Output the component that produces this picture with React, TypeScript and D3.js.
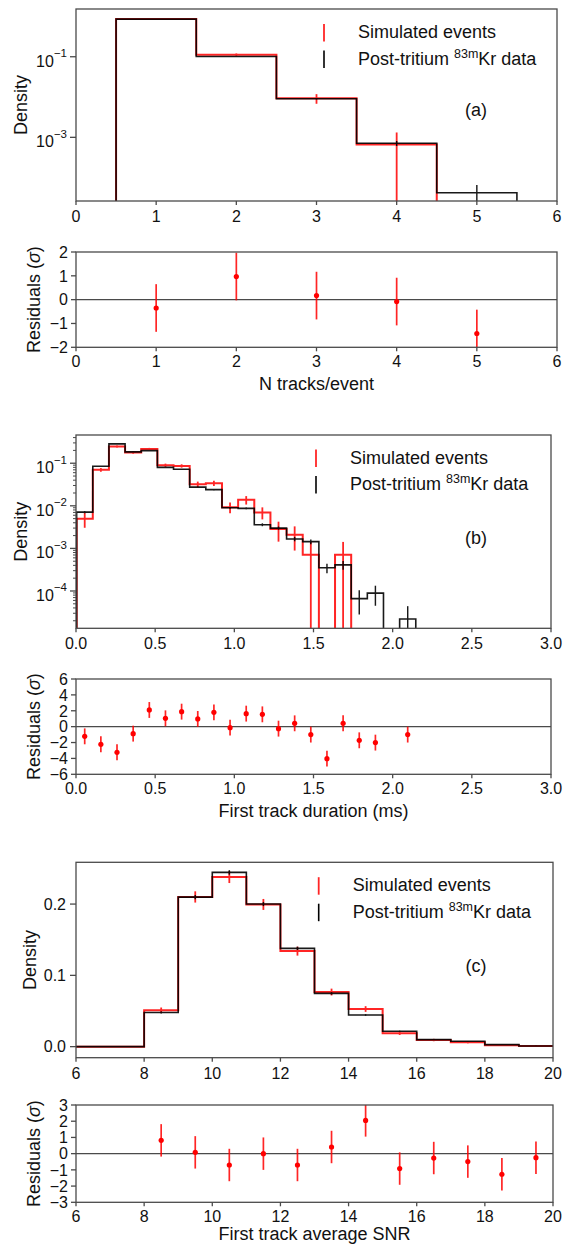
import React from 'react';
import * as d3 from 'd3';

const FONT = '"Liberation Sans", Arial, Helvetica, sans-serif';
const SIM_COLOR = '#ff0000';
const DATA_COLOR = '#000000';
const FRAME_COLOR = '#4a4a4a';
const TEXT_COLOR = '#111111';

// ---------- (a) number of tracks per event ----------
const trackBins = [1, 2, 3, 4, 5];
const trackBinWidth = 1;
const trackSim = [0.86, 0.112, 0.0093, 0.00066, 0];
const trackSimErr = [0.024, 0.0085, 0.0025, 0.00066, 0];
const trackData = [0.86, 0.101, 0.0091, 0.00071, 0.000042];
const trackDataErr = [0.0035, 0.0012, 0.00036, 0.0001, 0.000024];
const trackResid = [-0.35, 0.97, 0.17, -0.08, -1.42];
const trackXTicks = [0, 1, 2, 3, 4, 5, 6];
const trackYTicks = [1e-1, 1e-3];
const trackResidTicks = [-2, -1, 0, 1, 2];

// ---------- (b) first track duration ----------
const durationBins = [
  0.055, 0.157, 0.259, 0.361, 0.463, 0.565, 0.667, 0.769, 0.871, 0.973, 1.075,
  1.177, 1.279, 1.381, 1.483, 1.585, 1.687, 1.789, 1.891, 1.993, 2.095,
];
const durationBinWidth = 0.102;
const durationSim = [
  4.95e-3, 0.07, 0.246, 0.178, 0.217, 0.0898, 0.0866, 0.0322, 0.034, 0.0093, 0.0138,
  0.007, 0.00284, 0.00209, 7.1e-4, 0, 7.1e-4, 0, 0, 0, 0,
];
const durationSimErr = [
  1.9e-3, 7.0e-3, 1.3e-2, 1.1e-2, 1.2e-2, 8.0e-3, 7.8e-3, 4.8e-3, 4.9e-3, 2.6e-3, 3.1e-3,
  2.2e-3, 1.4e-3, 1.2e-3, 7.1e-4, 0, 7.1e-4, 0, 0, 0, 0,
];
const durationData = [
  7.1e-3, 0.085, 0.284, 0.185, 0.198, 0.08, 0.072, 0.0274, 0.024, 0.009, 0.0087,
  0.0036, 0.003, 0.00166, 0.00144, 3.5e-4, 4.1e-4, 6.6e-5, 8.9e-5, 0, 2.2e-5,
];
const durationDataErr = [
  4.0e-4, 1.37e-3, 2.5e-3, 2.0e-3, 2.1e-3, 1.33e-3, 1.26e-3, 7.8e-4, 7.3e-4, 4.4e-4, 4.4e-4,
  2.8e-4, 2.6e-4, 1.9e-4, 1.8e-4, 8.8e-5, 9.5e-5, 3.8e-5, 4.4e-5, 0, 2.2e-5,
];
const durationResid = [
  -1.22, -2.22, -3.23, -0.88, 2.1, 1.05, 1.89, 0.97, 1.8, -0.13, 1.64,
  1.55, -0.25, 0.42, -1.0, -4.03, 0.42, -1.72, -2.01, null, -1.0,
];
const durationXTicks = [0, 0.5, 1.0, 1.5, 2.0, 2.5, 3.0];
const durationYTicks = [1e-1, 1e-2, 1e-3, 1e-4];
const durationResidTicks = [-6, -4, -2, 0, 2, 4, 6];

// ---------- (c) first track average SNR ----------
const snrBins = [6.5, 7.5, 8.5, 9.5, 10.5, 11.5, 12.5, 13.5, 14.5, 15.5, 16.5, 17.5, 18.5, 19.5];
const snrBinWidth = 1;
const snrSim = [0, 0, 0.051, 0.21, 0.238, 0.1995, 0.134, 0.0766, 0.0528, 0.0187, 0.0093, 0.0061, 0.0019, 0.0009];
const snrSimErr = [0, 0, 0.0039, 0.0079, 0.0085, 0.0077, 0.0063, 0.0048, 0.004, 0.0024, 0.0017, 0.0014, 0.00075, 0.0005];
const snrData = [0, 0, 0.048, 0.2098, 0.2444, 0.2, 0.1379, 0.0748, 0.0444, 0.0215, 0.0098, 0.0075, 0.0028, 0.001];
const snrDataErr = [0, 0, 0.0014, 0.0029, 0.0031, 0.0028, 0.0023, 0.0017, 0.0013, 0.0009, 0.0006, 0.0005, 0.0003, 0.0002];
const snrResid = [null, null, 0.82, 0.08, -0.7, 0.0, -0.7, 0.41, 2.05, -0.92, -0.27, -0.49, -1.27, -0.25];
const snrXTicks = [6, 8, 10, 12, 14, 16, 18, 20];
const snrYTicks = [0.0, 0.1, 0.2];
const snrResidTicks = [-3, -2, -1, 0, 1, 2, 3];

// residuals are expressed in units of sigma
const RESID_SIGMA = 1;

const legendLabels = ['Simulated events', 'Post-tritium ', '83m', 'Kr data'];

type Box = { left: number; right: number; top: number; bottom: number };

interface HistSpec {
  values: number[];
  errors: number[];
  color: string;
  lineWidth: number;
  opacity: number;
}

interface MainProps {
  id: string;
  box: Box;
  xDomain: [number, number];
  xTicks: number[];
  xFmt: (v: number) => string;
  yType: 'log' | 'linear';
  yDomain: [number, number];
  yTicks: number[];
  yMinor?: boolean;
  yLabelX: number;
  centers: number[];
  binWidth: number;
  hists: HistSpec[];
  legendTextX: number;
  legendBaseline: number;
  tag: string;
  tagX: number;
  tagY: number;
}

function MainPanel(p: MainProps) {
  const { box } = p;
  const x = d3.scaleLinear().domain(p.xDomain).range([box.left, box.right]);
  const y =
    p.yType === 'log'
      ? d3.scaleLog().domain(p.yDomain).range([box.bottom, box.top])
      : d3.scaleLinear().domain(p.yDomain).range([box.bottom, box.top]);
  const floor = p.yType === 'log' ? box.bottom + 4 : (y as any)(0);
  const yy = (v: number) => (p.yType === 'log' && v <= 0 ? floor : (y as any)(v));
  const half = p.binWidth / 2;

  const stepPath = (values: number[]) => {
    let d = '';
    p.centers.forEach((c, i) => {
      const x0 = x(c - half);
      const x1 = x(c + half);
      const v = yy(values[i]);
      d += i === 0 ? `M${x0},${floor}L${x0},${v}` : `L${x0},${v}`;
      d += `L${x1},${v}`;
    });
    const last = p.centers[p.centers.length - 1];
    d += `L${x(last + half)},${floor}`;
    return d;
  };

  const minorTicks: number[] = [];
  if (p.yType === 'log' && p.yMinor) {
    const lo = Math.floor(Math.log10(p.yDomain[0]));
    const hi = Math.ceil(Math.log10(p.yDomain[1]));
    for (let e = lo; e < hi; e++) {
      for (let m = 2; m <= 9; m++) {
        const v = m * Math.pow(10, e);
        if (v >= p.yDomain[0] && v <= p.yDomain[1]) minorTicks.push(v);
      }
    }
  }

  const lx = p.legendTextX;
  const lb = p.legendBaseline;
  const lineX = lx - 34;
  const rowGap = 26.5;

  return (
    <g>
      <defs>
        <clipPath id={p.id}>
          <rect x={box.left} y={box.top} width={box.right - box.left} height={box.bottom - box.top} />
        </clipPath>
      </defs>
      <g clipPath={`url(#${p.id})`}>
        {p.hists.map((h, k) => (
          <g key={k} opacity={h.opacity}>
            <path d={stepPath(h.values)} fill="none" stroke={h.color} strokeWidth={h.lineWidth} />
            {p.centers.map((c, i) =>
              h.values[i] > 0 || h.errors[i] > 0 ? (
                <line
                  key={i}
                  x1={x(c)}
                  x2={x(c)}
                  y1={yy(h.values[i] + h.errors[i])}
                  y2={yy(h.values[i] - h.errors[i])}
                  stroke={h.color}
                  strokeWidth={h.lineWidth * 0.9}
                />
              ) : null
            )}
          </g>
        ))}
      </g>
      <rect
        x={box.left}
        y={box.top}
        width={box.right - box.left}
        height={box.bottom - box.top}
        fill="none"
        stroke={FRAME_COLOR}
        strokeWidth={1.3}
      />
      {/* y axis */}
      {minorTicks.map((v, i) => (
        <line key={'m' + i} x1={box.left - 3} x2={box.left} y1={y(v)} y2={y(v)} stroke={FRAME_COLOR} strokeWidth={1} />
      ))}
      {p.yTicks.map((v, i) => (
        <g key={'y' + i}>
          <line x1={box.left - 6} x2={box.left} y1={y(v)} y2={y(v)} stroke={FRAME_COLOR} strokeWidth={1.3} />
          {p.yType === 'log' ? (
            <text x={box.left - 9} y={y(v) + 10} textAnchor="end" fontSize={16} fill={TEXT_COLOR}>
              10
              <tspan dy={-9.5} fontSize={11.5}>
                {'\u2212' + Math.abs(Math.round(Math.log10(v)))}
              </tspan>
            </text>
          ) : (
            <text x={box.left - 10} y={y(v) + 5.8} textAnchor="end" fontSize={16} fill={TEXT_COLOR}>
              {d3.format('.1f')(v)}
            </text>
          )}
        </g>
      ))}
      {/* x axis */}
      {p.xTicks.map((v, i) => (
        <g key={'x' + i}>
          <line x1={x(v)} x2={x(v)} y1={box.bottom} y2={box.bottom + 4} stroke={FRAME_COLOR} strokeWidth={1.3} />
          <text x={x(v)} y={box.bottom + 21} textAnchor="middle" fontSize={16} fill={TEXT_COLOR}>
            {p.xFmt(v)}
          </text>
        </g>
      ))}
      <text
        transform={`translate(${p.yLabelX},${(box.top + box.bottom) / 2}) rotate(-90)`}
        textAnchor="middle"
        dy="0.35em"
        fontSize={18}
        fill={TEXT_COLOR}
      >
        Density
      </text>
      {/* legend */}
      <line x1={lineX} x2={lineX} y1={lb - 14} y2={lb + 3.5} stroke={SIM_COLOR} strokeWidth={1.8} opacity={0.85} />
      <line x1={lineX} x2={lineX} y1={lb + rowGap - 14} y2={lb + rowGap + 3.5} stroke={DATA_COLOR} strokeWidth={1.6} />
      <text x={lx} y={lb} fontSize={18} fill={TEXT_COLOR}>
        {legendLabels[0]}
      </text>
      <text x={lx} y={lb + rowGap} fontSize={18} fill={TEXT_COLOR}>
        {legendLabels[1]}
        <tspan dy={-7} fontSize={12.5}>
          {legendLabels[2]}
        </tspan>
        <tspan dy={7}>{legendLabels[3]}</tspan>
      </text>
      <text x={p.tagX} y={p.tagY} textAnchor="middle" fontSize={18} fill={TEXT_COLOR}>
        {p.tag}
      </text>
    </g>
  );
}

interface ResidProps {
  id: string;
  box: Box;
  xDomain: [number, number];
  xTicks: number[];
  xFmt: (v: number) => string;
  yDomain: [number, number];
  yTicks: number[];
  centers: number[];
  resid: (number | null)[];
  xLabel: string;
  xLabelOffset?: number;
}

function ResidPanel(p: ResidProps) {
  const { box } = p;
  const x = d3.scaleLinear().domain(p.xDomain).range([box.left, box.right]);
  const y = d3.scaleLinear().domain(p.yDomain).range([box.bottom, box.top]);
  const fmt = d3.format('d');
  return (
    <g>
      <defs>
        <clipPath id={p.id}>
          <rect x={box.left} y={box.top} width={box.right - box.left} height={box.bottom - box.top} />
        </clipPath>
      </defs>
      <line x1={box.left} x2={box.right} y1={y(0)} y2={y(0)} stroke={FRAME_COLOR} strokeWidth={1.3} />
      <g clipPath={`url(#${p.id})`}>
        {p.centers.map((c, i) => {
          const r = p.resid[i];
          if (r === null || r === undefined) return null;
          return (
            <g key={i}>
              <line
                x1={x(c)}
                x2={x(c)}
                y1={y(r + RESID_SIGMA)}
                y2={y(r - RESID_SIGMA)}
                stroke={SIM_COLOR}
                strokeWidth={1.7}
                opacity={0.85}
              />
              <circle cx={x(c)} cy={y(r)} r={2.6} fill={SIM_COLOR} />
            </g>
          );
        })}
      </g>
      <rect
        x={box.left}
        y={box.top}
        width={box.right - box.left}
        height={box.bottom - box.top}
        fill="none"
        stroke={FRAME_COLOR}
        strokeWidth={1.3}
      />
      {p.yTicks.map((v, i) => (
        <g key={'y' + i}>
          <line x1={box.left - 5} x2={box.left} y1={y(v)} y2={y(v)} stroke={FRAME_COLOR} strokeWidth={1.3} />
          <text x={box.left - 8} y={y(v) + 5.8} textAnchor="end" fontSize={16} fill={TEXT_COLOR}>
            {fmt(v)}
          </text>
        </g>
      ))}
      {p.xTicks.map((v, i) => (
        <g key={'x' + i}>
          <line x1={x(v)} x2={x(v)} y1={box.bottom} y2={box.bottom + 4} stroke={FRAME_COLOR} strokeWidth={1.3} />
          <text x={x(v)} y={box.bottom + 20} textAnchor="middle" fontSize={16} fill={TEXT_COLOR}>
            {p.xFmt(v)}
          </text>
        </g>
      ))}
      <text
        transform={`translate(34,${(box.top + box.bottom) / 2}) rotate(-90)`}
        textAnchor="middle"
        dy="0.35em"
        fontSize={18}
        fill={TEXT_COLOR}
      >
        Residuals (<tspan fontStyle="italic">σ</tspan>)
      </text>
      <text
        x={(box.left + box.right) / 2}
        y={box.bottom + (p.xLabelOffset ?? 43)}
        textAnchor="middle"
        fontSize={18}
        fill={TEXT_COLOR}
      >
        {p.xLabel}
      </text>
    </g>
  );
}

export default function App() {
  const intFmt = d3.format('d');
  const oneDec = d3.format('.1f');
  const simStyle = { color: SIM_COLOR, lineWidth: 2, opacity: 0.85 };
  const dataStyle = { color: DATA_COLOR, lineWidth: 1.6, opacity: 0.9 };

  return (
    <svg
      width={570}
      height={1245}
      viewBox="0 0 570 1245"
      style={{ position: 'absolute', left: 0, top: 0, background: '#fff', fontFamily: FONT }}
    >
      <rect width={570} height={1245} fill="#fff" />

      <MainPanel
        id="clip-a"
        box={{ left: 76, right: 557, top: 9, bottom: 201 }}
        xDomain={[0, 6]}
        xTicks={trackXTicks}
        xFmt={intFmt}
        yType="log"
        yDomain={[2.63e-5, 1.53]}
        yTicks={trackYTicks}
        yLabelX={21}
        centers={trackBins}
        binWidth={trackBinWidth}
        hists={[
          { values: trackSim, errors: trackSimErr, ...simStyle },
          { values: trackData, errors: trackDataErr, ...dataStyle },
        ]}
        legendTextX={358}
        legendBaseline={38}
        tag="(a)"
        tagX={476}
        tagY={116}
      />
      <ResidPanel
        id="clip-ar"
        box={{ left: 76, right: 557, top: 252, bottom: 347.3 }}
        xDomain={[0, 6]}
        xTicks={trackXTicks}
        xFmt={intFmt}
        yDomain={[-2, 2]}
        yTicks={trackResidTicks}
        centers={trackBins}
        resid={trackResid}
        xLabel="N tracks/event"
      />

      <MainPanel
        id="clip-b"
        box={{ left: 76, right: 551, top: 435, bottom: 628.3 }}
        xDomain={[0, 3]}
        xTicks={durationXTicks}
        xFmt={oneDec}
        yType="log"
        yDomain={[1.33e-5, 0.46]}
        yTicks={durationYTicks}
        yMinor
        yLabelX={21}
        centers={durationBins}
        binWidth={durationBinWidth}
        hists={[
          { values: durationSim, errors: durationSimErr, ...simStyle },
          { values: durationData, errors: durationDataErr, ...dataStyle },
        ]}
        legendTextX={350}
        legendBaseline={463.6}
        tag="(b)"
        tagX={476}
        tagY={544}
      />
      <ResidPanel
        id="clip-br"
        box={{ left: 76, right: 551, top: 679, bottom: 774.3 }}
        xDomain={[0, 3]}
        xTicks={durationXTicks}
        xFmt={oneDec}
        yDomain={[-6, 6]}
        yTicks={durationResidTicks}
        centers={durationBins}
        resid={durationResid}
        xLabel="First track duration (ms)"
      />

      <MainPanel
        id="clip-c"
        box={{ left: 76, right: 553, top: 862.3, bottom: 1057.7 }}
        xDomain={[6, 20]}
        xTicks={snrXTicks}
        xFmt={intFmt}
        yType="linear"
        yDomain={[-0.0155, 0.2586]}
        yTicks={snrYTicks}
        yLabelX={30}
        centers={snrBins}
        binWidth={snrBinWidth}
        hists={[
          { values: snrSim, errors: snrSimErr, ...simStyle },
          { values: snrData, errors: snrDataErr, ...dataStyle },
        ]}
        legendTextX={352.7}
        legendBaseline={891.2}
        tag="(c)"
        tagX={476}
        tagY={972}
      />
      <ResidPanel
        id="clip-cr"
        box={{ left: 76, right: 553, top: 1105, bottom: 1202.3 }}
        xDomain={[6, 20]}
        xTicks={snrXTicks}
        xFmt={intFmt}
        yDomain={[-3, 3]}
        yTicks={snrResidTicks}
        centers={snrBins}
        resid={snrResid}
        xLabel="First track average SNR"
        xLabelOffset={38}
      />
    </svg>
  );
}
